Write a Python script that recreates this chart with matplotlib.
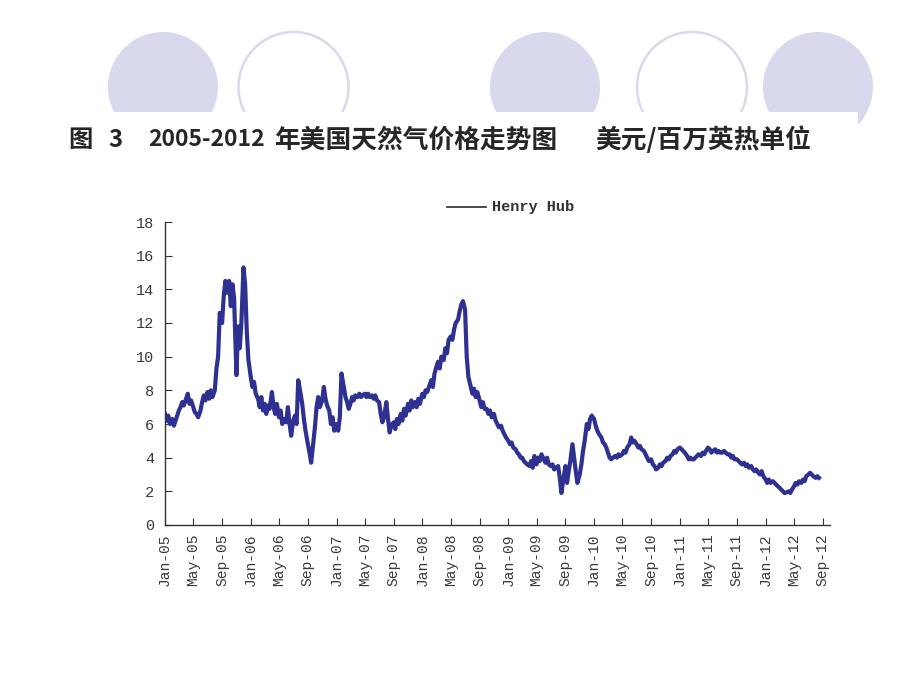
import matplotlib

matplotlib.use("Agg")
import matplotlib.pyplot as plt
import pandas as pd
from matplotlib.lines import Line2D
from matplotlib.patches import Ellipse, Rectangle

# weekly-ish Henry Hub spot prices, 4 readings per month (1st, 8th, 15th, 22nd)
price_2005 = [6.6, 6.2, 6.5, 6.0, 6.3, 5.9, 6.2, 6.5, 6.8, 7.0, 7.3, 7.1,
              7.5, 7.8, 7.2, 7.4, 7.0, 6.7, 6.6, 6.4, 6.8, 7.3, 7.7, 7.4,
              7.9, 7.5, 8.0, 7.6, 8.0, 9.3, 10.0, 12.6, 12.0, 13.6, 14.5, 13.8,
              14.5, 13.0, 14.3, 13.5, 8.9, 11.8, 10.5, 12.0, 15.3, 14.3, 11.5, 9.8]
price_2006 = [8.8, 8.2, 8.5, 7.8, 7.5, 7.0, 7.6, 6.8, 7.2, 6.6, 7.1, 6.9,
              7.9, 7.0, 6.6, 7.2, 6.4, 6.8, 6.0, 6.3, 6.1, 7.0, 6.0, 5.3,
              6.2, 6.5, 6.0, 8.6, 7.8, 7.2, 6.3, 5.6, 4.8, 4.3, 3.7, 4.6,
              5.8, 7.0, 7.6, 7.0, 7.4, 8.2, 7.5, 7.1, 6.8, 6.0, 6.4, 5.6]
price_2007 = [6.0, 5.6, 6.4, 9.0, 8.2, 7.6, 7.3, 6.9, 7.2, 7.6, 7.4, 7.7,
              7.6, 7.8, 7.6, 7.7, 7.8, 7.6, 7.8, 7.6, 7.7, 7.5, 7.7, 7.4,
              7.3, 6.6, 6.1, 6.4, 7.3, 6.3, 5.5, 5.9, 6.1, 5.7, 6.3, 6.0,
              6.6, 6.2, 6.9, 6.5, 7.2, 6.8, 7.4, 7.0, 7.3, 7.0, 7.5, 7.2]
price_2008 = [7.8, 7.6, 8.0, 7.9, 8.3, 8.6, 8.2, 9.0, 9.4, 9.7, 9.3, 10.0,
              9.8, 10.5, 10.2, 11.0, 11.2, 11.0, 11.6, 12.0, 12.2, 12.7, 13.1, 13.3,
              12.8, 10.0, 8.8, 8.4, 7.8, 8.1, 7.6, 7.9, 7.4, 7.0, 7.3, 6.9,
              6.9, 6.6, 6.8, 6.4, 6.6, 6.2, 6.0, 5.8, 5.9, 5.6, 5.4, 5.2]
price_2009 = [5.0, 4.8, 4.9, 4.6, 4.5, 4.3, 4.2, 4.0, 4.0, 3.8, 3.7, 3.6,
              3.5, 3.8, 3.4, 4.1, 3.6, 4.0, 3.8, 4.2, 3.9, 3.7, 4.0, 3.6,
              3.5, 3.6, 3.3, 3.4, 3.5, 2.8, 1.9, 2.6, 3.5, 2.5, 3.2, 3.8,
              4.8, 4.0, 3.2, 2.5, 3.0, 3.6, 4.4, 5.0, 6.0, 5.7, 6.3, 6.5]
price_2010 = [6.3, 5.9, 5.6, 5.4, 5.2, 4.9, 4.8, 4.6, 4.3, 4.0, 3.9, 4.0,
              4.1, 4.0, 4.2, 4.1, 4.2, 4.4, 4.3, 4.6, 4.8, 5.2, 4.9, 5.0,
              4.8, 4.6, 4.7, 4.5, 4.4, 4.2, 4.0, 3.8, 3.9, 3.6, 3.5, 3.3,
              3.4, 3.6, 3.5, 3.7, 3.8, 4.0, 3.9, 4.1, 4.2, 4.4, 4.3, 4.5]
price_2011 = [4.6, 4.5, 4.4, 4.3, 4.1, 3.9, 4.0, 3.9, 3.9, 4.0, 4.1, 4.2,
              4.1, 4.3, 4.2, 4.4, 4.6, 4.5, 4.3, 4.4, 4.5, 4.3, 4.4, 4.3,
              4.3, 4.4, 4.3, 4.2, 4.2, 4.0, 4.1, 3.9, 3.9, 3.8, 3.7, 3.6,
              3.7, 3.5, 3.6, 3.4, 3.5, 3.3, 3.2, 3.3, 3.1, 3.0, 3.2, 2.9]
price_2012 = [2.7, 2.5, 2.7, 2.5, 2.6, 2.5, 2.4, 2.3, 2.2, 2.1, 2.0, 1.9,
              1.95, 2.0, 1.9, 2.1, 2.3, 2.5, 2.4, 2.6, 2.5, 2.7, 2.6, 2.9,
              3.0, 3.1, 3.0, 2.9, 2.8, 2.9, 2.8]

tick_months = ["Jan", "May", "Sep"]
tick_years = list(range(2005, 2013))
title_parts = ["图", "3", "2005-2012", "年美国天然气价格走势图", "美元/百万英热单位"]
series_name = "Henry Hub"

prices = price_2005 + price_2006 + price_2007 + price_2008 + price_2009 + price_2010 + price_2011 + price_2012
month_starts = pd.date_range("2005-01-01", periods=(len(prices) + 3) // 4, freq="MS")
dates = [m + pd.Timedelta(days=d) for m in month_starts for d in (0, 7, 14, 21)][: len(prices)]

tick_dates = [pd.Timestamp(f"{y}-{m}-01") for y in tick_years for m in tick_months]
tick_dates = [d for d in tick_dates if d <= pd.Timestamp("2012-09-01")]
tick_labels = [d.strftime("%b-%y") for d in tick_dates]

fig = plt.figure(figsize=(9.2, 6.9), dpi=100)

# decorative circles on top of the slide, cut by a white band
disc_color = "#d9d9ed"
for cx, filled in [(163, True), (293.5, False), (545, True), (692, False), (818, True)]:
    patch = Ellipse((cx / 920, 1 - 87 / 690), 110 / 920, 110 / 690, transform=fig.transFigure,
                    facecolor=disc_color if filled else "none",
                    edgecolor="none" if filled else disc_color, lw=1.8, zorder=-3)
    fig.add_artist(patch)
fig.add_artist(Rectangle((0, 0), 858 / 920, 1 - 112 / 690, transform=fig.transFigure,
                         facecolor="white", edgecolor="none", zorder=-2))

cjk = ["Noto Sans CJK SC", "DejaVu Sans"]
for x_px, size, part in zip([68, 108, 148, 274, 595], [17.5, 17, 16.5, 18.5, 18.5], title_parts):
    fig.text(x_px / 920, 1 - 140 / 690, part, fontsize=size, fontweight="bold",
             family=cjk, color="#262626", va="center", ha="left")

ax = fig.add_axes([165 / 920, 1 - 525 / 690, 665 / 920, 303 / 690])
ax.plot(dates, prices, color="#2e3192", lw=3.0)
ax.set_ylim(0, 18)
ax.set_yticks(range(0, 19, 2))
ax.set_xlim(pd.Timestamp("2005-01-01"), pd.Timestamp("2012-10-01"))
ax.set_xticks(tick_dates)
ax.set_xticklabels(tick_labels, rotation=90)

mono = "Liberation Mono"
for lab in ax.get_xticklabels() + ax.get_yticklabels():
    lab.set_family(mono)
    lab.set_color("#3a3a3a")
ax.tick_params(axis="y", labelsize=11, direction="in", length=5, pad=8, color="#333333")
ax.tick_params(axis="x", labelsize=10.5, direction="in", length=5, pad=6, color="#333333")
for side in ("top", "right"):
    ax.spines[side].set_visible(False)
for side in ("left", "bottom"):
    ax.spines[side].set_color("#333333")
    ax.spines[side].set_linewidth(1.0)

fig.add_artist(Line2D([447 / 920, 486 / 920], [1 - 207 / 690, 1 - 207 / 690], transform=fig.transFigure,
                      color="#2a2a3a", lw=1.2))
fig.text(492 / 920, 1 - 207 / 690, series_name, family=mono, fontsize=11, fontweight="bold",
         color="#333333", va="center", ha="left")

fig.savefig("out.png", dpi=100)
plt.close(fig)
